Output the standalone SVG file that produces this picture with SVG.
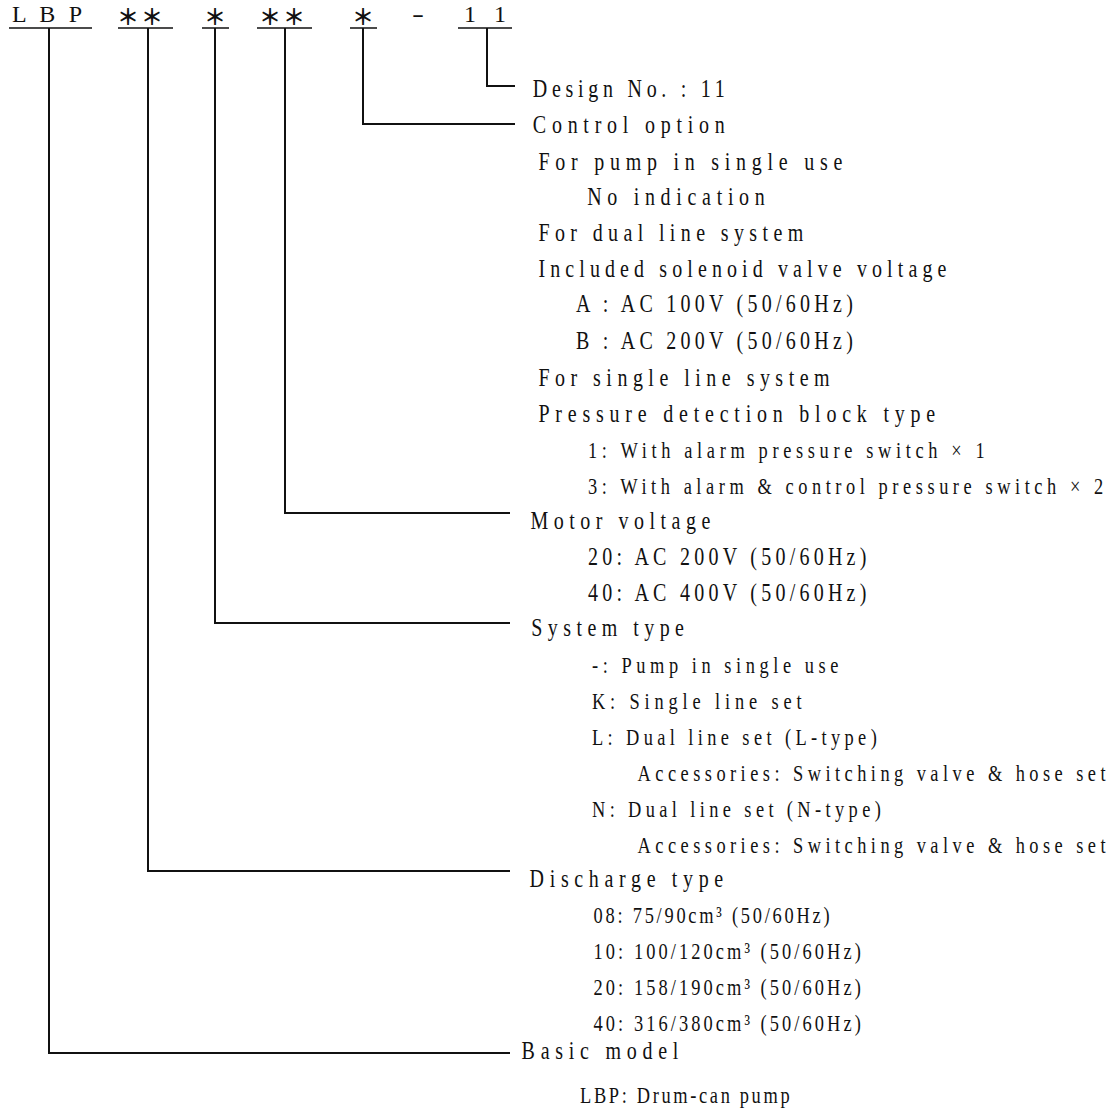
<svg xmlns="http://www.w3.org/2000/svg" width="1116" height="1108" viewBox="0 0 1116 1108">
<style>
.t{font-family:"Liberation Serif","Times New Roman",serif;font-size:25px;fill:#111}
.s{font-family:"Liberation Serif","Times New Roman",serif;font-size:23px;fill:#111}
.h{font-family:"Liberation Serif","Times New Roman",serif;font-size:24px;fill:#111}
.a{font-family:"Noto Sans CJK JP","Liberation Sans",sans-serif;font-size:22px;font-weight:bold;fill:#111}
.c{fill:none;stroke:#111;stroke-width:2}
.u{fill:none;stroke:#111;stroke-width:1.6}
</style>
<rect width="1116" height="1108" fill="#fff"/>
<g id="code">
<text class="h" x="12" y="22" textLength="70" lengthAdjust="spacing">L B P</text>
<text class="a" x="117" y="25" textLength="46" lengthAdjust="spacing">＊＊</text>
<text class="a" x="204" y="25">＊</text>
<text class="a" x="259" y="25" textLength="46" lengthAdjust="spacing">＊＊</text>
<text class="a" x="352" y="25">＊</text>
<text class="h" x="412" y="22" textLength="12" lengthAdjust="spacingAndGlyphs">-</text>
<text class="h" x="464" y="22" textLength="42" lengthAdjust="spacing">1 1</text>
<path class="u" d="M9 28H92M118 28H173M202 28H229M257 28H312M350 28H377M458 28H512"/>
</g>
<g id="connectors">
<path class="c" d="M487 28V86H515"/>
<path class="c" d="M363 28V124H515"/>
<path class="c" d="M285 28V513H510"/>
<path class="c" d="M215 28V623H510"/>
<path class="c" d="M148 28V871H510"/>
<path class="c" d="M49 28V1053H510"/>
</g>
<g transform="scale(0.8,1)">
<g id="design">
<text class="t" x="666" y="97" textLength="240" lengthAdjust="spacing">Design No. : 11</text>
</g>
<g id="control">
<text class="t" x="666" y="133" textLength="240" lengthAdjust="spacing">Control option</text>
<text class="t" x="673" y="170" textLength="380" lengthAdjust="spacing">For pump in single use</text>
<text class="t" x="734" y="205" textLength="222" lengthAdjust="spacing">No indication</text>
<text class="t" x="673" y="241" textLength="331" lengthAdjust="spacing">For dual line system</text>
<text class="t" x="673" y="277" textLength="510" lengthAdjust="spacing">Included solenoid valve voltage</text>
<text class="t" x="720" y="312" textLength="346" lengthAdjust="spacing">A : AC 100V (50/60Hz)</text>
<text class="t" x="720" y="349" textLength="346" lengthAdjust="spacing">B : AC 200V (50/60Hz)</text>
<text class="t" x="673" y="386" textLength="364" lengthAdjust="spacing">For single line system</text>
<text class="t" x="673" y="422" textLength="496" lengthAdjust="spacing">Pressure detection block type</text>
<text class="s" x="735" y="458" textLength="496" lengthAdjust="spacing">1: With alarm pressure switch × 1</text>
<text class="s" x="735" y="494" textLength="644" lengthAdjust="spacing">3: With alarm &amp; control pressure switch × 2</text>
</g>
<g id="motor">
<text class="t" x="663" y="529" textLength="225" lengthAdjust="spacing">Motor voltage</text>
<text class="t" x="735" y="565" textLength="348" lengthAdjust="spacing">20: AC 200V (50/60Hz)</text>
<text class="t" x="735" y="601" textLength="348" lengthAdjust="spacing">40: AC 400V (50/60Hz)</text>
</g>
<g id="system">
<text class="t" x="664" y="636" textLength="191" lengthAdjust="spacing">System type</text>
<text class="s" x="740" y="673" textLength="308" lengthAdjust="spacing">-: Pump in single use</text>
<text class="s" x="740" y="709" textLength="262" lengthAdjust="spacing">K: Single line set</text>
<text class="s" x="740" y="745" textLength="356" lengthAdjust="spacing">L: Dual line set (L-type)</text>
<text class="s" x="797" y="781" textLength="585" lengthAdjust="spacing">Accessories: Switching valve &amp; hose set</text>
<text class="s" x="740" y="817" textLength="361" lengthAdjust="spacing">N: Dual line set (N-type)</text>
<text class="s" x="797" y="853" textLength="585" lengthAdjust="spacing">Accessories: Switching valve &amp; hose set</text>
</g>
<g id="discharge">
<text class="t" x="662" y="887" textLength="242" lengthAdjust="spacing">Discharge type</text>
<text class="s" x="742" y="923" textLength="295" lengthAdjust="spacing">08: 75/90cm³ (50/60Hz)</text>
<text class="s" x="742" y="959" textLength="334" lengthAdjust="spacing">10: 100/120cm³ (50/60Hz)</text>
<text class="s" x="742" y="995" textLength="334" lengthAdjust="spacing">20: 158/190cm³ (50/60Hz)</text>
<text class="s" x="742" y="1031" textLength="334" lengthAdjust="spacing">40: 316/380cm³ (50/60Hz)</text>
</g>
<g id="basic">
<text class="t" x="652" y="1059" textLength="196" lengthAdjust="spacing">Basic model</text>
<text class="s" x="725" y="1103" textLength="262" lengthAdjust="spacing">LBP: Drum-can pump</text>
</g>
</g>
</svg>
